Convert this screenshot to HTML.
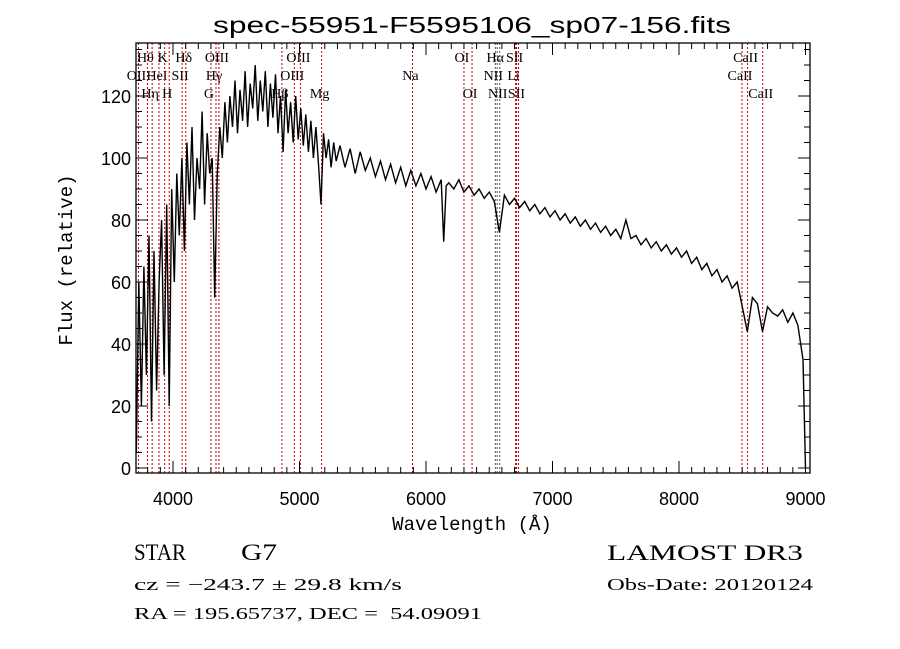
<!DOCTYPE html>
<html><head><meta charset="utf-8"><style>
html,body{margin:0;padding:0;background:#fff;}
svg{display:block;font-family:"Liberation Serif",serif;}
text{white-space:pre;}
</style></head><body>
<svg id="chart" width="900" height="649" viewBox="0 0 900 649" xmlns="http://www.w3.org/2000/svg">
<rect width="900" height="649" fill="#fff"/>
<text x="472" y="33" text-anchor="middle" font-family="Liberation Sans, sans-serif" font-size="23" textLength="518" lengthAdjust="spacingAndGlyphs">spec-55951-F5595106_sp07-156.fits</text>
<g id="lines"></g>
<g id="spec"></g>
<g id="axes"></g>
<text x="472" y="530" text-anchor="middle" font-family="Liberation Mono, monospace" font-size="19">Wavelength (Å)</text>
<text transform="translate(72,260) rotate(-90)" text-anchor="middle" font-family="Liberation Mono, monospace" font-size="19">Flux (relative)</text>
<text x="134" y="560" font-size="23" textLength="52" lengthAdjust="spacingAndGlyphs">STAR</text>
<text x="241" y="560" font-size="23" textLength="36" lengthAdjust="spacingAndGlyphs">G7</text>
<text x="134" y="590" font-size="17" textLength="268" lengthAdjust="spacingAndGlyphs">cz = −243.7 ± 29.8 km/s</text>
<text x="134" y="619" font-size="17" textLength="348" lengthAdjust="spacingAndGlyphs" xml:space="preserve">RA = 195.65737, DEC =  54.09091</text>
<text x="607" y="560" font-size="22" textLength="196" lengthAdjust="spacingAndGlyphs">LAMOST DR3</text>
<text x="607" y="590" font-size="17" textLength="206" lengthAdjust="spacingAndGlyphs">Obs-Date: 20120124</text>
</svg>
<script>
const wavelengths=[3710,3730,3750,3770,3790,3810,3830,3850,3870,3890,3910,3930,3950,3970,3990,4010,4030,4050,4070,4090,
4110,4130,4150,4170,4190,4210,4230,4250,4270,4290,4310,4330,4350,4370,4390,4410,4430,4450,4470,4490,
4510,4530,4550,4570,4590,4610,4630,4650,4670,4690,4710,4730,4750,4770,4790,4810,4830,4850,4870,4890,
4910,4930,4950,4970,4990,5010,5030,5050,5070,5090,5110,5130,5150,5170,5190,5210,5230,5250,5270,5290,
5320,5360,5400,5440,5480,5520,5560,5600,5640,5680,5720,5760,5800,5840,5880,5920,5960,6000,6040,6080,6120,6140,6160,
6180,6220,6260,6300,6340,6380,6420,6460,6500,6540,6580,6620,6660,6700,6740,6780,6820,6860,6900,6940,6980,7020,7060,7100,7140,7180,7220,7260,7300,7340,7380,7420,7460,7500,7540,7580,7620,7660,7700,7740,7780,7820,7860,7900,7940,7980,8020,8060,8100,8140,8180,8220,8260,8300,8340,8380,8420,8460,8500,8540,8580,8620,8660,8700,8740,8780,8820,8860,8900,8940,8980,9000];
const flux=[5,60,20,65,30,75,15,70,25,60,80,30,85,20,90,60,95,75,100,70,
105,85,110,80,100,90,115,85,108,95,100,55,95,110,100,118,105,120,110,125,
108,122,112,128,110,124,116,130,112,125,115,128,110,124,113,127,108,120,102,122,
108,118,105,120,106,116,104,114,102,112,100,110,98,85,108,100,106,97,105,99,
104,97,103,95,102,96,100,94,99,93,98,92,97,91,96,91,95,90,94,89,93,73,91,
92,90,93,89,91,88,90,87,89,86,76,88,85,87,84,86,83,85,82,84,81,83,80,82,79,81,78,80,77,79,76,78,75,77,74,80,74,75,72,74,71,73,70,72,69,71,68,70,66,68,64,66,62,64,60,62,58,60,52,44,55,53,44,52,50,49,51,47,50,46,35,0];
const lineWl=[3727,3798,3835,3889,3934,3970,4072,4101,4300,4340,4363,4861,4959,5007,5175,5893,6300,6364,6548,6563,6583,6708,6716,6731,8498,8542,8662];
const lineLabels=[["OII",2],["Hθ",1],["Hη",3],["HeI",2],["K",1],["H",3],["SII",2],["Hδ",1],["G",3],["Hγ",2],["OIII",1],["Hβ",3],["OIII",2],["OIII",1],["Mg",3],["Na",2],["OI",1],["OI",3],["NII",2],["Hα",1],["NII",3],["Li",2],["SII",1],["SII",3],["CaII",2],["CaII",1],["CaII",3]];
const xTicks=[4000,5000,6000,7000,8000,9000];
const yTicks=[0,20,40,60,80,100,120];
const X0=136,X1=810,Y0=43,Y1=473;
const xs=w=>173+(w-4000)*0.1265;
const ys=f=>468-f*3.1;
const NS="http://www.w3.org/2000/svg";
function mk(tag,attrs,parent){const e=document.createElementNS(NS,tag);for(const k in attrs)e.setAttribute(k,attrs[k]);parent.appendChild(e);return e;}
const gL=document.getElementById('lines'),gS=document.getElementById('spec'),gA=document.getElementById('axes');
lineWl.forEach((w,i)=>{
  const l=mk('line',{x1:xs(w),x2:xs(w),y1:Y0,y2:Y1,stroke:(w>6540&&w<6590)?'#555':'#c00000','stroke-width':1,'stroke-dasharray':'2,2'},gL);
  
  
  const r=lineLabels[i][1];
  const t=mk('text',{x:xs(w)-2,y:62+(r-1)*18,'font-size':14,'text-anchor':'middle'},gL);
  t.textContent=lineLabels[i][0];
  
  
});
let d='';
wavelengths.forEach((w,i)=>{d+=(i?'L':'M')+xs(w).toFixed(1)+','+Math.min(Y1,ys(flux[i])).toFixed(1);});
const p=mk('path',{d:d,fill:'none',stroke:'#000','stroke-width':1.4},gS);


const fr=mk('rect',{x:X0,y:Y0,width:X1-X0,height:Y1-Y0,fill:'none',stroke:'#000','stroke-width':1.3},gA);


for(let w=3800;w<=9000;w+=100){
  const x=xs(w),len=(w%1000===0)?12:6;
  mk('line',{x1:x,x2:x,y1:Y1,y2:Y1-len,stroke:'#000'},gA);
  mk('line',{x1:x,x2:x,y1:Y0,y2:Y0+len,stroke:'#000'},gA);
}
xTicks.forEach(w=>{const t=mk('text',{x:xs(w),y:505,'font-family':'Liberation Sans, sans-serif','font-size':18,'text-anchor':'middle'},gA);t.textContent=w;
  
  });
for(let f=0;f<=135;f+=5){
  const y=ys(f),len=(f%20===0)?12:6;
  mk('line',{x1:X0,x2:X0+len,y1:y,y2:y,stroke:'#000'},gA);
  mk('line',{x1:X1,x2:X1-len,y1:y,y2:y,stroke:'#000'},gA);
}
yTicks.forEach(f=>{const t=mk('text',{x:131,y:ys(f)+7,'font-family':'Liberation Sans, sans-serif','font-size':18,'text-anchor':'end'},gA);t.textContent=f;
  
  });
</script>
</body></html>
